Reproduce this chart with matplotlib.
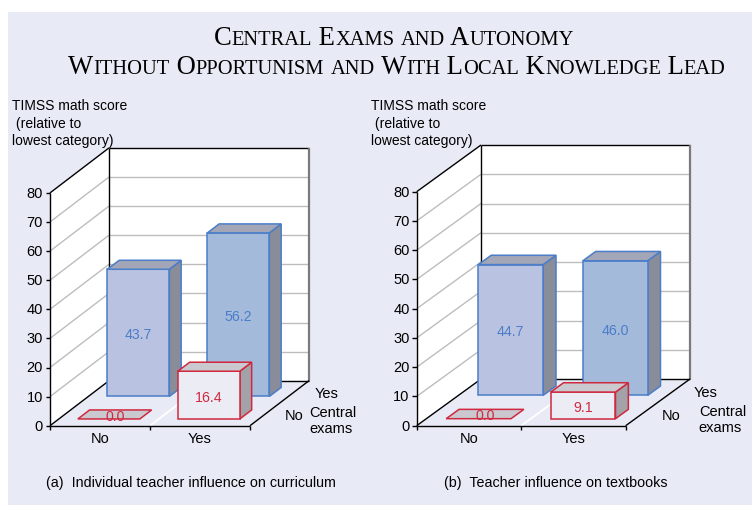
import matplotlib
matplotlib.use("Agg")
import matplotlib.pyplot as plt
from matplotlib.patches import Polygon, Rectangle

# ---------------- data ----------------
categories = ["No", "Yes"]            # teacher influence (x axis)
exam_rows = ["No", "Yes"]             # central exams (depth axis: front, back)
panel_a_no_exams = [0.0, 16.4]
panel_a_exams = [43.7, 56.2]
panel_b_no_exams = [0.0, 9.1]
panel_b_exams = [44.7, 46.0]
yticks = [0, 10, 20, 30, 40, 50, 60, 70, 80]
ymax = 80
captions = ["(a)  Individual teacher influence on curriculum",
            "(b)  Teacher influence on textbooks"]
ylabel = "TIMSS math score\n (relative to\nlowest category)"
depth_title = "Central\nexams"
title_lines = ["Central Exams and Autonomy",
               "Without Opportunism and With Local Knowledge Lead"]

# ---------------- style ----------------
W_PX, H_PX, DPI = 752, 506, 100
BG = "#E8EAF5"
BLUE_EDGE = "#4B7DC9"
RED_EDGE = "#D0283F"
FRONT_BLUE = ["#B9C3E1", "#A3BADB"]
TOP_BLUE = "#A2A6B6"
SIDE_BLUE = "#898D99"
FRONT_RED = "#EBECF4"
TOP_RED = "#C9C9CF"
SIDE_RED = "#A2A2A8"
SANS = ["Liberation Sans", "DejaVu Sans"]
SERIF = ["Liberation Serif", "DejaVu Serif"]

fig = plt.figure(figsize=(W_PX / DPI, H_PX / DPI), dpi=DPI)
fig.patch.set_facecolor("white")
fig.patches.append(Rectangle((8 / W_PX, 0), 1, 1 - 13 / H_PX, transform=fig.transFigure,
                             facecolor=BG, edgecolor="none", zorder=-5))

panels = [
    dict(x0=50.0, y0=426.7, cat_px=100.0, val_px=2.91, dx_px=59.0, dy_px=45.0,
         front=panel_a_no_exams, back=panel_a_exams, caption=captions[0],
         cap_x=191, ylab_x=12, exam_dx=30),
    dict(x0=416.7, y0=426.7, cat_px=104.5, val_px=2.925, dx_px=64.3, dy_px=46.7,
         front=panel_b_no_exams, back=panel_b_exams, caption=captions[1],
         cap_x=556, ylab_x=371, exam_dx=41),
]

BAR_W = 0.62
ROWS = [(0.15, 0.35), (0.65, 0.85)]

for P in panels:
    ax = fig.add_axes([0, 0, 1, 1])
    ax.set_axis_off()
    ax.patch.set_alpha(0)
    cp, vp = P["cat_px"], P["val_px"]
    ax.set_xlim(-P["x0"] / cp, (W_PX - P["x0"]) / cp)
    ax.set_ylim((P["y0"] - H_PX) / vp, P["y0"] / vp)
    DX = P["dx_px"] / cp
    DY = P["dy_px"] / vp
    ncat = len(categories)

    def pr(x, v, d):
        return (x + d * DX, v + d * DY)

    def poly(pts, fc, ec="none", lw=1.0, z=1):
        ax.add_patch(Polygon(pts, closed=True, facecolor=fc, edgecolor=ec,
                             linewidth=lw, zorder=z, joinstyle="miter"))

    def line(p, q, c="black", lw=1.0, z=2):
        ax.plot([p[0], q[0]], [p[1], q[1]], color=c, lw=lw, zorder=z,
                solid_capstyle="butt")

    # walls and floor
    poly([pr(0, 0, 0), pr(0, 0, 1), pr(0, ymax, 1), pr(0, ymax, 0)], "white")
    poly([pr(0, 0, 1), pr(ncat, 0, 1), pr(ncat, ymax, 1), pr(0, ymax, 1)], "white")
    poly([pr(0, 0, 0), pr(ncat, 0, 0), pr(ncat, 0, 1), pr(0, 0, 1)], BG)
    for v in yticks[1:-1]:
        line(pr(0, v, 0), pr(0, v, 1), "#BDBDBD", 1.0, 1.5)
        line(pr(0, v, 1), pr(ncat, v, 1), "#BDBDBD", 1.0, 1.5)
    for k in range(1, ncat):
        line(pr(k, 0, 0), pr(k, 0, 1), "white", 1.3, 1.5)
    # frame edges
    line(pr(0, 0, 0), pr(0, ymax, 0))
    line(pr(0, ymax, 0), pr(0, ymax, 1))
    line(pr(0, 0, 1), pr(0, ymax, 1))
    line(pr(0, ymax, 1), pr(ncat, ymax, 1))
    line(pr(ncat, 0, 1), pr(ncat, ymax, 1), "#7A7A7A", 1.6)
    line(pr(0, 0, 0), pr(ncat, 0, 0))
    line(pr(ncat, 0, 0), pr(ncat, 0, 1))
    line(pr(0, 0, 1), pr(ncat, 0, 1))
    line(pr(0, 0, 0), pr(0, 0, 1))

    # ticks and tick labels
    tkx = 4.5 / cp
    tky = 4.5 / vp
    for v in yticks:
        line((-tkx, v), (0, v))
        ax.text(-7.0 / cp, v, str(v), ha="right", va="center", fontsize=10.5,
                family=SANS, color="black")
    for k in range(ncat + 1):
        line((k, 0), (k, -tky))
    for k, c in enumerate(categories):
        ax.text(k + 0.5, -12.8 / vp, c, ha="center", va="center", fontsize=10.5,
                family=SANS)

    # bars: back row (central exams = Yes) first, then front row
    for row_idx in (1, 0):
        vals = P["back"] if row_idx == 1 else P["front"]
        d0, d1 = ROWS[row_idx]
        for k, v in enumerate(vals):
            xl = k + 0.5 - BAR_W / 2
            xr = xl + BAR_W
            if row_idx == 1:
                fc, tc, sc, ec = FRONT_BLUE[k], TOP_BLUE, SIDE_BLUE, BLUE_EDGE
            else:
                fc, tc, sc, ec = FRONT_RED, TOP_RED, SIDE_RED, RED_EDGE
            if v > 0:
                poly([pr(xr, 0, d0), pr(xr, 0, d1), pr(xr, v, d1), pr(xr, v, d0)],
                     sc, ec, 1.1, 3)
                poly([pr(xl, 0, d0), pr(xr, 0, d0), pr(xr, v, d0), pr(xl, v, d0)],
                     fc, ec, 1.1, 3)
            poly([pr(xl, v, d0), pr(xr, v, d0), pr(xr, v, d1), pr(xl, v, d1)],
                 tc, ec, 1.1, 3)
            if v > 0:
                tx, ty = pr(k + 0.5, v / 2, d0)
            else:
                tx, ty = pr(k + 0.5, 0, (d0 + d1) / 2)
            ax.text(tx, ty - 0.5, f"{v:.1f}", ha="center", va="center", fontsize=10.2,
                    family=SANS, color=ec, zorder=4)

    # depth axis labels
    for r, lab in enumerate(exam_rows):
        d0, d1 = ROWS[r]
        ax.annotate(lab, pr(ncat, 0, (d0 + d1) / 2), xytext=(20, -1),
                    textcoords="offset pixels", ha="left", va="center",
                    fontsize=10.5, family=SANS)
    ax.annotate(depth_title, pr(ncat, 0, 0.5), xytext=(P["exam_dx"], -17),
                textcoords="offset pixels", ha="left", va="center",
                fontsize=10.5, family=SANS, linespacing=1.2)

    # y-axis title and caption (figure pixel positions)
    fig.text(P["ylab_x"] / W_PX, 1 - 99 / H_PX, ylabel, ha="left", va="top",
             fontsize=10, family=SANS, linespacing=1.34)
    fig.text(P["cap_x"] / W_PX, 1 - 483 / H_PX, P["caption"], ha="center",
             va="center", fontsize=10.3, family=SANS)

# ---------------- small-caps title ----------------
renderer = fig.canvas.get_renderer()
BIG, SMALL = 19.2, 14.8


def small_caps(s, cx, baseline_px):
    runs = []
    for ch in s:
        size = SMALL if ch.islower() else BIG
        if runs and runs[-1][1] == size:
            runs[-1][0] += ch.upper()
        else:
            runs.append([ch.upper(), size])
    texts = []
    widths = []
    for txt, size in runs:
        t = fig.text(0, 1 - baseline_px / H_PX, txt, ha="left", va="baseline",
                     fontsize=size, family=SERIF, color="black")
        w = t.get_window_extent(renderer).width
        texts.append(t)
        widths.append(w)
    total = sum(widths)
    x = cx - total / 2
    for t, w in zip(texts, widths):
        t.set_x(x / W_PX)
        x += w


small_caps(title_lines[0], 394, 45)
small_caps(title_lines[1], 397, 74)

fig.savefig("out.png", dpi=DPI, facecolor=fig.get_facecolor())
